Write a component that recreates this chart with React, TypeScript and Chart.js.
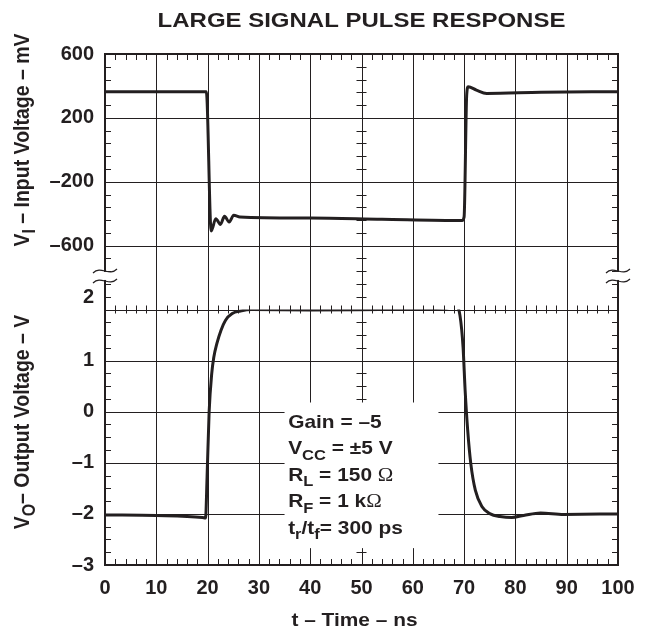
import React, { useEffect, useRef } from 'react';
import { Chart, registerables } from 'chart.js';

Chart.register(...registerables);

// ---------------- data ----------------
const TITLE = 'LARGE SIGNAL PULSE RESPONSE';
const X_TITLE = 't – Time – ns';
const X_TICKS = [0, 10, 20, 30, 40, 50, 60, 70, 80, 90, 100];
const VIN_TICKS = [600, 200, -200, -600];
const VOUT_TICKS = [2, 1, 0, -1, -2, -3];

const inputTimeNs = [0, 19.75, 20.7, 21.6, 22.5, 23.3, 24.2, 25.1, 26.3, 40, 54, 69.6, 70.0, 70.5, 70.8, 72.4, 74.4, 85, 100];
const inputMv = [364, 364, -508, -431, -467, -416, -452, -410, -420, -427, -435, -443, -420, 340, 395, 374, 353, 360, 364];

const outputTimeNs = [0, 10, 19.0, 19.6, 19.9, 20.3, 20.8, 21.2, 21.8, 22.6, 23.5, 24.8, 26.4, 28.6, 40, 53.6, 66.6, 68.5, 69.2, 69.8, 70.2, 70.7, 71.3, 72.2, 73.5, 75.1, 77.0, 79.3, 81.6, 84.9, 89.4, 100];
const outputV = [-2.02, -2.03, -2.07, -2.08, -1.27, 0.0, 0.74, 1.06, 1.33, 1.59, 1.79, 1.92, 1.97, 2.0, 1.99, 2.0, 2.03, 2.08, 1.88, 1.26, 0.42, -0.36, -1.01, -1.54, -1.86, -2.0, -2.05, -2.07, -2.03, -1.98, -2.01, -2.0];

type Seg = { t: string; sub?: boolean; light?: boolean };
const Y_IN_TITLE: Seg[] = [{ t: 'V' }, { t: 'I', sub: true }, { t: ' – Input Voltage – mV' }];
const Y_OUT_TITLE: Seg[] = [{ t: 'V' }, { t: 'O', sub: true }, { t: '– Output Voltage – V' }];
const NOTES: Seg[][] = [
  [{ t: 'Gain = –5' }],
  [{ t: 'V' }, { t: 'CC', sub: true }, { t: ' = ±5 V' }],
  [{ t: 'R' }, { t: 'L', sub: true }, { t: ' = 150 ' }, { t: 'Ω', light: true }],
  [{ t: 'R' }, { t: 'F', sub: true }, { t: ' = 1 k' }, { t: 'Ω', light: true }],
  [{ t: 't' }, { t: 'r', sub: true }, { t: '/t' }, { t: 'f', sub: true }, { t: '= 300 ps' }],
];

// ---------------- styles ----------------
const INK = '#231f20';
const FAMILY = '"Liberation Sans", Arial, Helvetica, sans-serif';
const STRETCH = 1.1;

const fmt = (v: number) => (v < 0 ? '–' + Math.abs(v) : String(v));

function segFont(s: Seg, size: number) {
  if (s.light) return `normal ${size}px "Liberation Serif", "DejaVu Serif", serif`;
  return `bold ${s.sub ? Math.round(size * 0.8) : size}px ${FAMILY}`;
}

function richWidth(ctx: CanvasRenderingContext2D, segs: Seg[], size: number) {
  let w = 0;
  for (const s of segs) {
    ctx.font = segFont(s, size);
    w += ctx.measureText(s.t).width;
  }
  return w;
}

function drawRich(
  ctx: CanvasRenderingContext2D,
  segs: Seg[],
  x: number,
  y: number,
  size: number,
  align: 'left' | 'center',
  rotated = false,
  stretch = STRETCH
) {
  ctx.save();
  ctx.translate(x, y);
  if (rotated) {
    ctx.rotate(-Math.PI / 2);
    ctx.scale(1, stretch);
  } else {
    ctx.scale(stretch, 1);
  }
  ctx.fillStyle = INK;
  ctx.textBaseline = 'alphabetic';
  ctx.textAlign = 'left';
  const w = richWidth(ctx, segs, size);
  let cx = align === 'center' ? -w / 2 : 0;
  for (const s of segs) {
    ctx.font = segFont(s, size);
    ctx.fillText(s.t, cx, s.sub ? size * 0.3 : 0);
    cx += ctx.measureText(s.t).width;
  }
  ctx.restore();
}

const scopePlugin = {
  id: 'scopeGrid',
  beforeDatasetsDraw(chart: any) {
    const { ctx, scales } = chart;
    const xs = scales.x, yi = scales.yIn, yo = scales.yOut;
    const L = xs.getPixelForValue(0), R = xs.getPixelForValue(100);
    const T = yi.getPixelForValue(600), M = yo.getPixelForValue(2), B = yo.getPixelForValue(-3);
    const px = (v: number) => Math.round(v) + 0.5;
    ctx.save();
    ctx.strokeStyle = INK;
    ctx.lineWidth = 1;
    const hl = (y: number, x1: number, x2: number) => {
      ctx.beginPath(); ctx.moveTo(x1, px(y)); ctx.lineTo(x2, px(y)); ctx.stroke();
    };
    const vl = (x: number, y1: number, y2: number) => {
      ctx.beginPath(); ctx.moveTo(px(x), y1); ctx.lineTo(px(x), y2); ctx.stroke();
    };
    // major grid
    for (const t of X_TICKS) if (t > 0 && t < 100) vl(xs.getPixelForValue(t), T, B);
    for (const v of VIN_TICKS) if (v < 600) hl(yi.getPixelForValue(v), L, R);
    for (const v of VOUT_TICKS) if (v > -3) hl(yo.getPixelForValue(v), L, R);

    // minor ticks
    const TK = 6, CR = 4;
    const xc = xs.getPixelForValue(50);
    for (let t = 2; t < 100; t += 2) {
      if (t % 10 === 0) continue;
      const x = xs.getPixelForValue(t);
      vl(x, T, T + TK);
      vl(x, B - TK, B);
      vl(x, M - CR, M + CR);
    }
    for (let v = 600; v >= -1000; v -= 80) {
      const y = yi.getPixelForValue(v);
      hl(y, L, L + TK);
      hl(y, R - TK, R);
      hl(y, xc - CR - 1, xc + CR + 1);
    }
    for (let v = 2; v >= -3; v -= 0.25) {
      const y = yo.getPixelForValue(v);
      hl(y, L, L + TK);
      hl(y, R - TK, R);
      hl(y, xc - CR - 1, xc + CR + 1);
    }

    // annotation panel (white backing)
    const bx1 = xs.getPixelForValue(35), bx2 = xs.getPixelForValue(65);
    const by1 = yo.getPixelForValue(0.18), by2 = yo.getPixelForValue(-2.67);
    ctx.fillStyle = '#ffffff';
    ctx.fillRect(bx1, by1, bx2 - bx1, by2 - by1);

    // frame
    ctx.lineWidth = 2;
    ctx.strokeRect(L, T, R - L, B - T);
    ctx.restore();
  },
  afterDraw(chart: any) {
    const { ctx, scales } = chart;
    const xs = scales.x, yi = scales.yIn, yo = scales.yOut;
    const L = xs.getPixelForValue(0), R = xs.getPixelForValue(100);
    const M = yo.getPixelForValue(2);
    const cx = (L + R) / 2;

    // break marks on both vertical axes
    const yb = yi.getPixelForValue(-790);
    for (const xb of [L, R]) {
      ctx.save();
      ctx.fillStyle = '#ffffff';
      ctx.fillRect(xb - 3, yb - 4, 6, 8);
      ctx.strokeStyle = INK;
      ctx.lineWidth = 1.2;
      for (const dy of [-5, 5]) {
        ctx.beginPath();
        ctx.moveTo(xb - 12, yb + dy + 2);
        ctx.bezierCurveTo(xb - 4, yb + dy - 6, xb + 4, yb + dy + 6, xb + 12, yb + dy - 2);
        ctx.stroke();
      }
      ctx.restore();
    }

    // lower "2" label sits above its line
    ctx.save();
    ctx.fillStyle = INK;
    ctx.font = `bold 20px ${FAMILY}`;
    ctx.textAlign = 'right';
    ctx.textBaseline = 'middle';
    ctx.fillText(fmt(VOUT_TICKS[0]), L - 11, M - 12);
    ctx.restore();

    // title
    drawRich(ctx, [{ t: TITLE }], cx, 27, 20.5, 'center', false, 1.17);
    // x title
    drawRich(ctx, [{ t: X_TITLE }], cx - 7, 626, 19, 'center');
    // y titles
    drawRich(ctx, Y_IN_TITLE, 29, 140, 19.5, 'center', true);
    drawRich(ctx, Y_OUT_TITLE, 29, 422, 19.5, 'center', true);

    // annotation
    const nx = xs.getPixelForValue(35.7);
    const ny = yo.getPixelForValue(0.18) + 25;
    NOTES.forEach((line, i) => drawRich(ctx, line, nx, ny + i * 26.5, 19, 'left'));
  },
};

export default function App() {
  const ref = useRef<HTMLCanvasElement | null>(null);

  useEffect(() => {
    if (!ref.current) return;
    const tickFont = { family: FAMILY, size: 20, weight: 'bold' as const };
    const chart = new Chart(ref.current, {
      type: 'line',
      data: {
        datasets: [
          {
            data: inputTimeNs.map((t, i) => ({ x: t, y: inputMv[i] })),
            yAxisID: 'yIn',
            borderColor: INK,
            borderWidth: 3,
            pointRadius: 0,
            cubicInterpolationMode: 'monotone',
            borderJoinStyle: 'round',
            borderCapStyle: 'round',
          },
          {
            data: outputTimeNs.map((t, i) => ({ x: t, y: outputV[i] })),
            yAxisID: 'yOut',
            borderColor: INK,
            borderWidth: 3,
            pointRadius: 0,
            cubicInterpolationMode: 'monotone',
            borderJoinStyle: 'round',
            borderCapStyle: 'round',
          },
        ],
      },
      options: {
        responsive: false,
        animation: false,
        devicePixelRatio: 1,
        parsing: false as any,
        layout: { padding: { top: 54, right: 29, left: 0, bottom: 0 } },
        plugins: {
          legend: { display: false },
          tooltip: { enabled: false },
          title: { display: false },
        },
        scales: {
          x: {
            type: 'linear',
            min: 0,
            max: 100,
            afterBuildTicks: (s: any) => { s.ticks = X_TICKS.map((v) => ({ value: v })); },
            afterFit: (s: any) => { s.height = 64; },
            grid: { display: false },
            border: { display: false },
            ticks: { font: tickFont, color: INK, padding: 3, maxRotation: 0, autoSkip: false },
          },
          yOut: {
            type: 'linear',
            position: 'left',
            stack: 'scope',
            stackWeight: 1,
            min: -3,
            max: 2,
            afterBuildTicks: (s: any) => { s.ticks = VOUT_TICKS.map((v) => ({ value: v })); },
            afterFit: (s: any) => { s.width = 105; },
            grid: { display: false },
            border: { display: false },
            ticks: {
              font: tickFont,
              color: INK,
              padding: 3,
              callback: (v: any) => (Number(v) === VOUT_TICKS[0] ? '' : fmt(Number(v))),
            },
          },
          yIn: {
            type: 'linear',
            position: 'left',
            stack: 'scope',
            stackWeight: 1,
            min: -1000,
            max: 600,
            afterBuildTicks: (s: any) => { s.ticks = VIN_TICKS.map((v) => ({ value: v })); },
            afterFit: (s: any) => { s.width = 105; },
            grid: { display: false },
            border: { display: false },
            ticks: { font: tickFont, color: INK, padding: 3, callback: (v: any) => fmt(Number(v)) },
          },
        },
      } as any,
      plugins: [scopePlugin],
    });
    return () => chart.destroy();
  }, []);

  return (
    <div style={{ position: 'fixed', left: 0, top: 0, width: 647, height: 629, background: '#fff' }}>
      <canvas ref={ref} width={647} height={629} style={{ display: 'block' }} />
    </div>
  );
}
